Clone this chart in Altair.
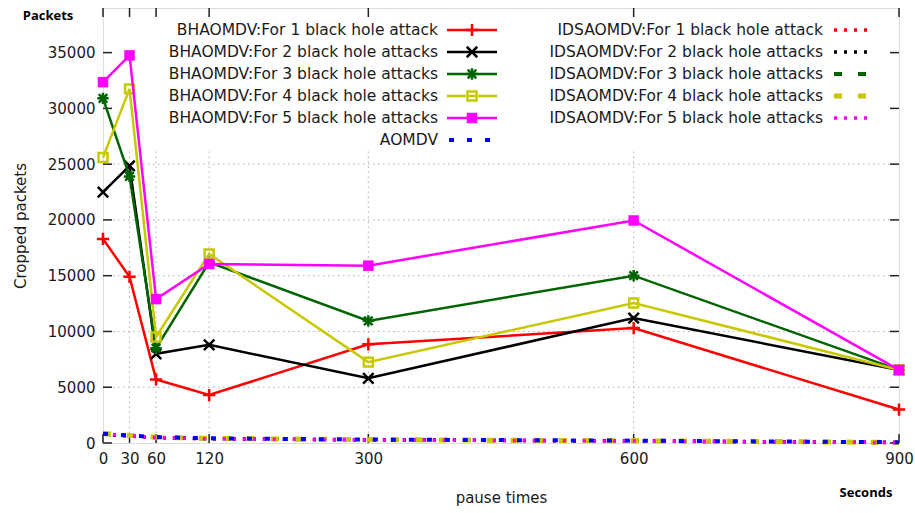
import altair as alt
import pandas as pd

# ---------------- data ----------------
pause = [0, 30, 60, 120, 300, 600, 900]
bh1 = [18300, 14900, 5700, 4300, 8850, 10300, 3000]
bh2 = [22500, 24850, 8000, 8800, 5800, 11200, 6550]
bh3 = [30900, 23900, 8500, 16200, 10950, 15000, 6550]
bh4 = [25600, 31750, 9500, 16950, 7250, 12550, 6550]
bh5 = [32350, 34750, 12900, 16050, 15900, 19950, 6550]
ids1 = [780, 620, 480, 380, 280, 180, 40]
ids2 = [800, 640, 500, 390, 290, 190, 50]
ids3 = [820, 660, 510, 400, 300, 200, 60]
ids4 = [860, 680, 520, 410, 300, 200, 50]
ids5 = [840, 650, 490, 380, 280, 170, 40]
aomdv = [830, 670, 530, 420, 310, 210, 70]

bh_names = ["BHAOMDV:For 1 black hole attack", "BHAOMDV:For 2 black hole attacks",
            "BHAOMDV:For 3 black hole attacks", "BHAOMDV:For 4 black hole attacks",
            "BHAOMDV:For 5 black hole attacks"]
ids_names = ["IDSAOMDV:For 1 black hole attack", "IDSAOMDV:For 2 black hole attacks",
             "IDSAOMDV:For 3 black hole attacks", "IDSAOMDV:For 4 black hole attacks",
             "IDSAOMDV:For 5 black hole attacks"]
aomdv_name = "AOMDV"

x_ticks = [0, 30, 60, 120, 300, 600, 900]
y_ticks = [0, 5000, 10000, 15000, 20000, 25000, 30000, 35000]

# ---------------- styles ----------------
colors = ["#ff0000", "#000000", "#006400", "#c8c800", "#ff00ff"]
blue = "#0000ff"
PLUS = "M-1,0L1,0M0,-1L0,1"
XSYM = "M-1,-1L1,1M-1,1L1,-1"
STAR = "M-1,0L1,0M0,-1L0,1M-0.75,-0.75L0.75,0.75M-0.75,0.75L0.75,-0.75"
bh_shapes = [(PLUS, False, 150), (XSYM, False, 110), (STAR, False, 130),
             ("square", False, 80), ("square", True, 110)]
ids_dash = [[3, 7], [3, 7], [8, 16], [8, 16], [3, 7]]
ids_width = [3.5, 3.5, 4, 5, 3.5]

W, H = 796, 435
FONT = "DejaVu Sans"
TXT = "#1a1a1a"

xs = alt.Scale(domain=[0, 900], nice=False, zero=False)
ys = alt.Scale(domain=[0, 39000], nice=False)

layers = []

# grid (hidden under key box at the top)
vg = pd.DataFrame({"x": [30, 60, 120, 300, 600], "y0": 0, "y1": 26300})
layers.append(alt.Chart(vg).mark_rule(color="#b0b0b0", strokeWidth=1, strokeDash=[1.5, 3.5]).encode(
    x=alt.X("x:Q", scale=xs), y=alt.Y("y0:Q", scale=ys), y2="y1:Q"))
hg = pd.DataFrame({"y": [5000, 10000, 15000, 20000, 25000]})
layers.append(alt.Chart(hg).mark_rule(color="#b0b0b0", strokeWidth=1, strokeDash=[1.5, 3.5]).encode(
    y=alt.Y("y:Q", scale=ys), x=alt.value(0), x2=alt.value(W)))

# inward ticks on all four sides
yt = pd.DataFrame({"y": y_ticks})
xt = pd.DataFrame({"x": x_ticks})
tk = dict(color="#222222", strokeWidth=1.5)
layers.append(alt.Chart(yt).mark_rule(**tk).encode(y=alt.Y("y:Q", scale=ys), x=alt.value(0), x2=alt.value(9)))
layers.append(alt.Chart(yt).mark_rule(**tk).encode(y=alt.Y("y:Q", scale=ys), x=alt.value(W - 9), x2=alt.value(W)))
layers.append(alt.Chart(xt).mark_rule(**tk).encode(x=alt.X("x:Q", scale=xs), y=alt.value(H - 9), y2=alt.value(H)))
layers.append(alt.Chart(xt).mark_rule(**tk).encode(x=alt.X("x:Q", scale=xs), y=alt.value(0), y2=alt.value(9)))

# axes (labels + titles only)
axis_df = pd.DataFrame({"x": [0, 900], "y": [0, 39000]})
layers.append(alt.Chart(axis_df).mark_point(opacity=0).encode(
    x=alt.X("x:Q", scale=xs, axis=alt.Axis(
        values=x_ticks, title="pause times", domain=False, ticks=False, grid=False,
        labelFontSize=15, labelFont=FONT, labelColor=TXT, labelPadding=8, labelFlush=False,
        titleFont=FONT, titleFontSize=15, titleFontWeight="normal", titleColor=TXT,
        titleX=W / 2, titleY=54, titleBaseline="middle")),
    y=alt.Y("y:Q", scale=ys, axis=alt.Axis(
        values=y_ticks, format="d", title="Cropped packets", domain=False, ticks=False, grid=False,
        labelFontSize=15, labelFont=FONT, labelColor=TXT, labelPadding=8,
        titleFont=FONT, titleFontSize=15, titleFontWeight="normal", titleColor=TXT,
        titleX=-83, titleY=H / 2, titleBaseline="middle", titleAlign="center", titleAngle=270)),
))

# IDSAOMDV + AOMDV (near zero)
low_series = [(ids_names[i], [ids1, ids2, ids3, ids4, ids5][i], colors[i], ids_dash[i], ids_width[i]) for i in range(5)]
low_series.append((aomdv_name, aomdv, blue, [5, 13], 4))
for name, vals, col, dash, sw in low_series:
    df = pd.DataFrame({"pause": pause, "v": vals, "s": name})
    layers.append(alt.Chart(df).mark_line(color=col, strokeDash=dash, strokeWidth=sw, strokeCap="butt").encode(
        x=alt.X("pause:Q", scale=xs), y=alt.Y("v:Q", scale=ys)))

# BHAOMDV series
bh_vals = [bh1, bh2, bh3, bh4, bh5]
for i in range(5):
    df = pd.DataFrame({"pause": pause, "v": bh_vals[i], "s": bh_names[i]})
    shp, filled, size = bh_shapes[i]
    base = alt.Chart(df).encode(x=alt.X("pause:Q", scale=xs), y=alt.Y("v:Q", scale=ys))
    layers.append(base.mark_line(color=colors[i], strokeWidth=2.5))
    layers.append(base.mark_point(shape=shp, filled=filled, size=size, color=colors[i],
                                  strokeWidth=2.5 if not filled else 0, opacity=1))

# ---------------- key (legend) ----------------
row_y = [22 + 22 * i for i in range(6)]
LX, LS1, LS2 = 335, 344, 394
RX, RS1, RS2 = 720, 729, 770
left_names = bh_names + [aomdv_name]
key_txt = pd.DataFrame({
    "label": left_names + ids_names,
    "lx": [LX] * 6 + [RX] * 5,
    "ly": row_y + row_y[:5],
})
layers.append(alt.Chart(key_txt).mark_text(align="right", baseline="middle", font=FONT, fontSize=15.5,
                                           color=TXT).encode(
    x=alt.X("lx:Q", scale=None), y=alt.Y("ly:Q", scale=None), text="label:N"))

for i in range(5):
    yv = row_y[i]
    kd = pd.DataFrame({"s": [bh_names[i]]})
    layers.append(alt.Chart(kd).mark_rule(color=colors[i], strokeWidth=2.5).encode(
        x=alt.value(LS1), x2=alt.value(LS2), y=alt.value(yv)))
    shp, filled, size = bh_shapes[i]
    layers.append(alt.Chart(kd).mark_point(shape=shp, filled=filled, size=size, color=colors[i],
                                           strokeWidth=2.5 if not filled else 0, opacity=1).encode(
        x=alt.value((LS1 + LS2) / 2), y=alt.value(yv)))
    kd2 = pd.DataFrame({"s": [ids_names[i]]})
    layers.append(alt.Chart(kd2).mark_rule(color=colors[i], strokeWidth=ids_width[i], strokeDash=ids_dash[i],
                                           strokeCap="butt").encode(
        x=alt.value(RS1 + 2), x2=alt.value(RS2), y=alt.value(yv)))
kd3 = pd.DataFrame({"s": [aomdv_name]})
layers.append(alt.Chart(kd3).mark_rule(color=blue, strokeWidth=4, strokeDash=[5, 13], strokeCap="butt").encode(
    x=alt.value(LS1 + 2), x2=alt.value(LS2), y=alt.value(row_y[5])))

# corner unit labels
units = pd.DataFrame({"t": ["Packets", "Seconds"], "ux": [-55, 763], "uy": [8, 485]})
layers.append(alt.Chart(units).mark_text(font="Open Sans", fontWeight="bold", fontSize=13, color="#000000",
                                         align="center", baseline="middle").encode(
    x=alt.X("ux:Q", scale=None), y=alt.Y("uy:Q", scale=None), text="t:N"))

chart = alt.layer(*layers).properties(
    width=W, height=H,
    autosize=alt.AutoSizeParams(type="none"),
    padding={"left": 103, "top": 8, "right": 16, "bottom": 70},
).configure_view(stroke="#222222", strokeWidth=1.5).configure(background="white")

chart.save("out.html", embed_options={"renderer": "svg", "actions": False})
